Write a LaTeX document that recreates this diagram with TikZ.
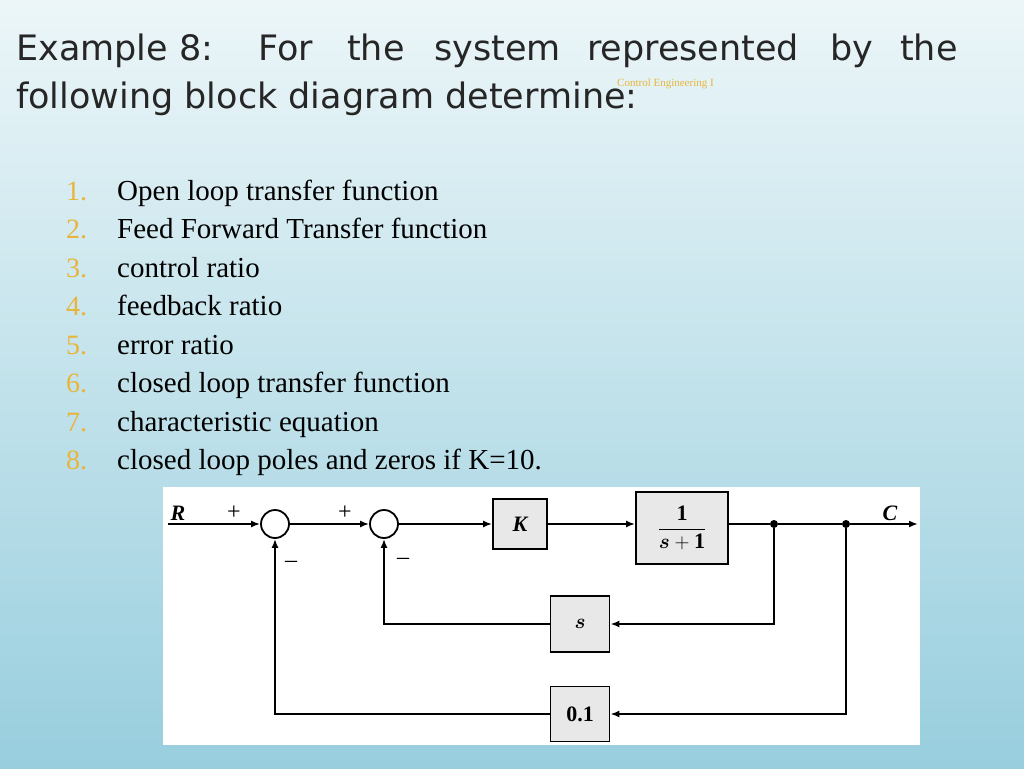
\documentclass[tikz,border=0pt]{standalone}
\usepackage{amsmath}
\usepackage{bm}
\usepackage{fontspec}
\setmainfont{Liberation Serif}
\newfontfamily\titlefont{DejaVu Sans}
\usetikzlibrary{arrows.meta}
\definecolor{gold}{HTML}{E8B53A}
\begin{document}
\begin{tikzpicture}[x=1pt,y=-1pt,
  tw/.style={anchor=base west,inner sep=0pt,font=\titlefont\fontsize{35}{40}\selectfont,text=black!85},
  num/.style={anchor=base west,inner sep=0pt,font=\fontsize{28}{32}\selectfont,text=gold},
  itm/.style={anchor=base west,inner sep=0pt,font=\fontsize{29}{32}\selectfont},
  blk/.style={draw,line width=1.8pt,fill=gray!18,inner sep=0pt,font=\bfseries\fontsize{22}{24}\selectfont},
  sumc/.style={draw,circle,line width=1.8pt,minimum size=28pt,inner sep=0pt},
  sig/.style={line width=1.8pt,-{Latex[length=9pt,width=7pt]}},
  ln/.style={line width=1.8pt},
  dot/.style={circle,fill,inner sep=0pt,minimum size=8pt},
  lab/.style={font=\bfseries\itshape\fontsize{22}{24}\selectfont,inner sep=0pt},
  pm/.style={font=\fontsize{24}{26}\selectfont,inner sep=0pt}]
\useasboundingbox (0,0) rectangle (1024,768);
\shade[top color={rgb,255:red,236;green,246;blue,248}, bottom color={rgb,255:red,152;green,206;blue,222}] (0,0) rectangle (1024,768);
% title
\node[tw] (t1) at (16,60) {Example 8:};
\node[tw] (t2) at (258,60) {For};
\node[tw] (t3) at (347,60) {the};
\node[tw] (t4) at (434,60) {system};
\node[tw] (t5) at (587,60) {represented};
\node[tw] (t6) at (830,60) {by};
\node[tw] (t7) at (900,60) {the};
\node[tw] (t8) at (16,108) {following block diagram determine:};
\node[anchor=base west,inner sep=0pt,text=gold,font=\fontsize{11}{12}\selectfont] (ce) at (617,86) {Control Engineering I};
% list
\foreach \n/\t [count=\i] in {1/Open loop transfer function,2/Feed Forward Transfer function,3/control ratio,4/feedback ratio,5/error ratio,6/closed loop transfer function,7/characteristic equation,8/closed loop poles and zeros if K=10.}{
  \node[num] (n\i) at (66,{200+38.5*(\i-1)}) {\n.};
  \node[itm] (i\i) at (117,{200+38.5*(\i-1)}) {\t};
}
% diagram
\fill[white] (163,487) rectangle (920,745);
\coordinate (R) at (168,524);
\node[sumc] (s1) at (275,524) {};
\node[sumc] (s2) at (384,524) {};
\node[blk,minimum width=54pt,minimum height=50pt] (K) at (520,524) {\itshape K};
\node[blk,minimum width=92pt,minimum height=72pt] (G) at (682,528) {$\displaystyle\frac{\mathbf{1}}{\bm{s}+\mathbf{1}}$};
\node[dot] (d1) at (774,524) {};
\node[dot] (d2) at (846,524) {};
\coordinate (C) at (918,524);
\node[blk,minimum width=59pt,minimum height=56pt] (S) at (580,624) {$\bm{s}$};
\node[blk,minimum width=59pt,minimum height=55pt] (H) at (580,714) {0.1};
\draw[sig] (R) -- (s1);
\draw[sig] (s1) -- (s2);
\draw[sig] (s2) -- (K);
\draw[sig] (K) -- (G.west |- K);
\draw[ln] (G.east |- d1) -- (d1) -- (d2);
\draw[sig] (d2) -- (C);
\draw[sig] (d1) |- (S.east);
\draw[sig] (S.west) -| (s2.south);
\draw[sig] (d2) |- (H.east);
\draw[sig] (H.west) -| (s1.south);
\node[lab] (lR) at (178,513) {R};
\node[lab] (lC) at (890,513) {C};
\node[pm] (p1) at (234,513) {+};
\node[pm] (p2) at (345,513) {+};
\node[pm] (m1) at (291,564) {--};
\node[pm] (m2) at (403,561) {--};
\end{tikzpicture}
\end{document}
